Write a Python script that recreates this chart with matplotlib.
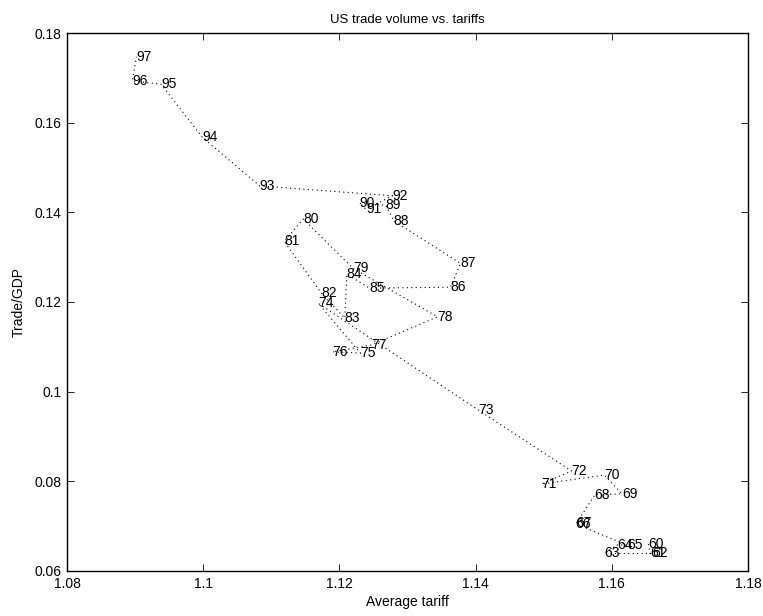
import matplotlib
matplotlib.use("Agg")
import matplotlib.pyplot as plt

# ================================
# DADOS
# ================================
ANOS = [60, 61, 62, 63, 64, 65, 66, 67, 68, 69,
        70, 71, 72, 73, 74, 75, 76, 77, 78, 79,
        80, 81, 82, 83, 84, 85, 86, 87, 88, 89,
        90, 91, 92, 93, 94, 95, 96, 97]
TARIFA = [1.1654, 1.1656, 1.1660, 1.1589, 1.1608, 1.1622, 1.1547, 1.1548, 1.1575, 1.1615,
          1.1589, 1.1497, 1.1541, 1.1404, 1.1169, 1.1231, 1.1190, 1.1247, 1.1344, 1.1220,
          1.1147, 1.1119, 1.1174, 1.1208, 1.1211, 1.1244, 1.1363, 1.1378, 1.1280, 1.1268,
          1.1229, 1.1239, 1.1278, 1.1083, 1.0999, 1.0938, 1.0896, 1.0902]
COMERCIO_PIB = [0.0660, 0.0639, 0.0639, 0.0639, 0.0658, 0.0658, 0.0705, 0.0706, 0.0770, 0.0772,
                0.0814, 0.0794, 0.0823, 0.0959, 0.1197, 0.1086, 0.1089, 0.1104, 0.1167, 0.1275,
                0.1385, 0.1335, 0.1219, 0.1164, 0.1262, 0.1231, 0.1233, 0.1286, 0.1381, 0.1416,
                0.1420, 0.1407, 0.1437, 0.1459, 0.1567, 0.1686, 0.1693, 0.1747]

plt.rcParams['font.family'] = ['Liberation Sans', 'DejaVu Sans']

fig = plt.figure(figsize=(7.63, 6.16), dpi=100)
ax = fig.add_axes([0.0878, 0.0731, 0.8925, 0.8733])

ax.plot(TARIFA, COMERCIO_PIB, color='black', linestyle=(0, (1, 3)), linewidth=0.8)
for ano, x, y in zip(ANOS, TARIFA, COMERCIO_PIB):
    ax.text(x, y, str(ano), ha='left', va='center', fontsize=10)

ax.set_xlim(1.08, 1.18)
ax.set_ylim(0.06, 0.18)
ax.set_xticks([1.08, 1.1, 1.12, 1.14, 1.16, 1.18])
ax.set_xticklabels(['1.08', '1.1', '1.12', '1.14', '1.16', '1.18'])
ax.set_yticks([0.06, 0.08, 0.1, 0.12, 0.14, 0.16, 0.18])
ax.set_yticklabels(['0.06', '0.08', '0.1', '0.12', '0.14', '0.16', '0.18'])
ax.tick_params(direction='in', top=True, right=True, labelsize=10, length=5, width=0.6, pad=4)
for s in ax.spines.values():
    s.set_linewidth(1.0)

ax.set_title("US trade volume vs. tariffs", fontsize=9.5, pad=7)
ax.set_xlabel("Average tariff", fontsize=10, labelpad=3)
ax.set_ylabel("Trade/GDP", fontsize=10, labelpad=6)

fig.savefig("out.png", dpi=100)
